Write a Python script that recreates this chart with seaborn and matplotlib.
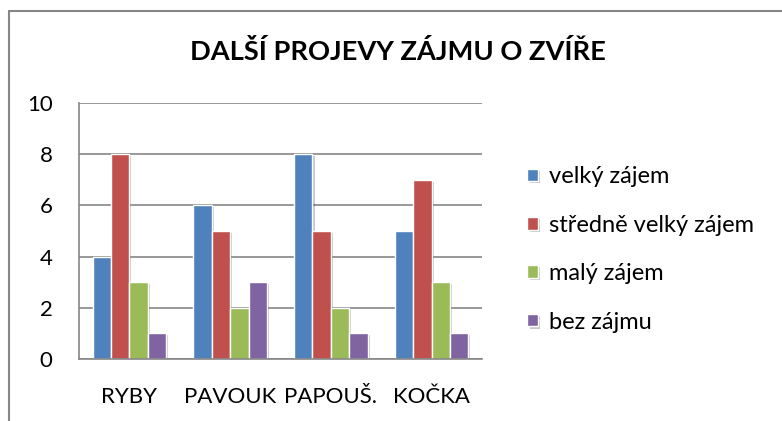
import pandas as pd
import seaborn as sns
import matplotlib.pyplot as plt
import matplotlib.patheffects as pe
from matplotlib.lines import Line2D

zvirata = ['RYBY', 'PAVOUK', 'PAPOUŠ.', 'KOČKA']
zajem = ['velký zájem', 'středně velký zájem', 'malý zájem', 'bez zájmu']
velky = [4, 6, 8, 5]
stredni = [8, 5, 5, 7]
maly = [3, 2, 2, 3]
bez = [1, 3, 1, 1]
barvy = ['#4F81BD', '#C0504D', '#9BBB59', '#8064A2']

rows = []
for name, vals in zip(zajem, [velky, stredni, maly, bez]):
    for z, v in zip(zvirata, vals):
        rows.append({'zvire': z, 'zajem': name, 'pocet': v})
df = pd.DataFrame(rows)

sns.set_style('white')
plt.rcParams['font.family'] = ['Lato', 'DejaVu Sans']
plt.rcParams['text.color'] = 'black'
plt.rcParams['xtick.color'] = 'black'
plt.rcParams['ytick.color'] = 'black'

fig = plt.figure(figsize=(7.82, 4.21), dpi=100)
ax = fig.add_axes([79 / 782, 1 - 359 / 421, 403 / 782, 256 / 421])

sns.barplot(data=df, x='zvire', y='pocet', hue='zajem', palette=barvy, saturation=1,
            width=0.73, edgecolor='white', linewidth=1, ax=ax)
for p in ax.patches:
    p.set_path_effects([pe.SimplePatchShadow(offset=(1.5, -1.5), alpha=0.25), pe.Normal()])

ax.set_ylim(0, 10)
ax.set_xlim(-0.5, 3.5)
ax.set_yticks(range(0, 11, 2))
ax.yaxis.grid(True, color='#868686', linewidth=1.2)
ax.set_axisbelow(True)
for s in ['top', 'right']:
    ax.spines[s].set_visible(False)
for s in ['left', 'bottom']:
    ax.spines[s].set_color('#868686')
    ax.spines[s].set_linewidth(1.2)
ax.tick_params(axis='y', length=0, pad=19, labelsize=16)
ax.tick_params(axis='x', length=0, pad=20, labelsize=16)
ax.set_xlabel('')
ax.set_ylabel('')

ax.legend(loc='center left', bbox_to_anchor=(1.06, 0.428), frameon=False,
          fontsize=17, handlelength=0.45, handleheight=0.45, handletextpad=0.45,
          labelspacing=1.16)

fig.text(398 / 782, 1 - 52 / 421, 'DALŠÍ PROJEVY ZÁJMU O ZVÍŘE', ha='center',
         va='center', fontsize=19.6, fontweight='bold')

# chart border (only left and top visible in the crop)
fig.add_artist(Line2D([9 / 782, 9 / 782], [0, 1 - 11 / 421], transform=fig.transFigure,
                      color='#868686', linewidth=1.5))
fig.add_artist(Line2D([9 / 782, 1], [1 - 11 / 421, 1 - 11 / 421], transform=fig.transFigure,
                      color='#868686', linewidth=1.5))

fig.savefig('out.png', dpi=100, facecolor='white')
